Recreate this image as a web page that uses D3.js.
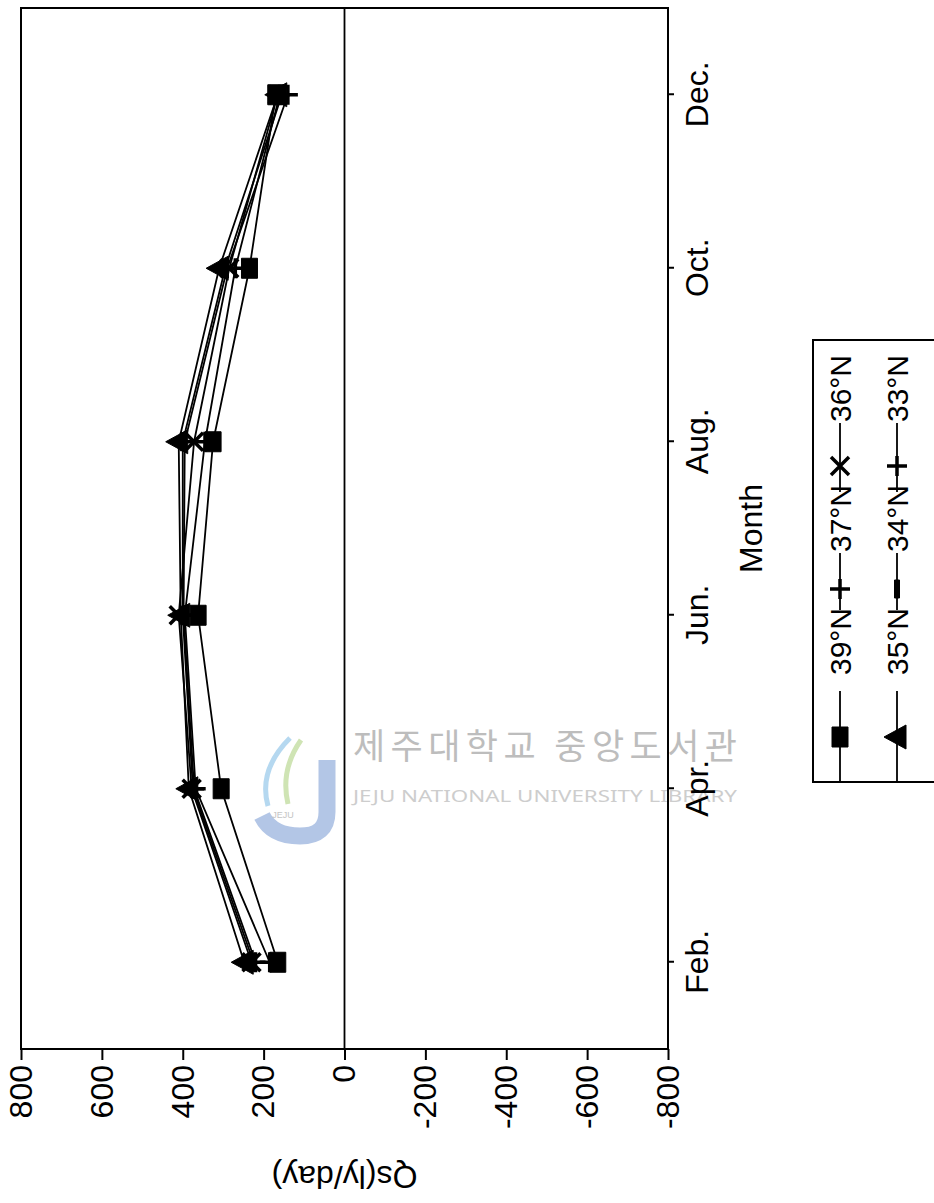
<!DOCTYPE html>
<html>
<head>
<meta charset="utf-8">
<script src="https://cdn.jsdelivr.net/npm/d3@7"></script>
<style>
    body { margin: 0; background: #fff; }
    svg { display: block; font-family: "Liberation Sans", Arial, sans-serif; }
</style>
</head>
<body>
<svg id="chart" width="934" height="1203"></svg>
<script>
// months on the (original) x axis
const months = ["Feb.", "Apr.", "Jun.", "Aug.", "Oct.", "Dec."];
const valueTicks = [800, 600, 400, 200, 0, -200, -400, -600, -800];
const latitudes = ["39°N", "37°N", "36°N", "35°N", "34°N", "33°N"];
const markerTypes = ["square", "plus", "x", "triangle", "bar", "plus"];

// Qs (ly/day)
const qs39 = [165, 305, 362, 325, 235, 170];
const qs37 = [185, 368, 395, 345, 270, 160];
const qs36 = [230, 378, 410, 372, 285, 165];
const qs35 = [248, 385, 405, 410, 310, 165];
const qs34 = [225, 375, 400, 400, 295, 155];
const qs33 = [220, 372, 398, 395, 290, 140];
const qsAll = [qs39, qs37, qs36, qs35, qs34, qs33];

const svg = d3.select("#chart");
const W = +svg.attr("width"), H = +svg.attr("height");

// watermark (horizontal on the page)
function drawWatermark() {
    const wm = svg.append("g").attr("class", "watermark");
    wm.append("path")
    .attr("d", "M327,760 L327,812 Q327,836 300,836 Q272,836 262,816")
    .attr("fill", "none").attr("stroke", "#b3c6e6").attr("stroke-width", 17);
    wm.append("path")
    .attr("d", "M290,738 Q258,770 268,806")
    .attr("fill", "none").attr("stroke", "#b5d8f0").attr("stroke-width", 5);
    wm.append("path")
    .attr("d", "M301,740 Q280,770 288,804")
    .attr("fill", "none").attr("stroke", "#cfe4b4").attr("stroke-width", 5);
    wm.append("text").attr("x", 283).attr("y", 818)
    .attr("text-anchor", "middle").attr("font-size", 9).attr("fill", "#c4c4c4")
    .text("JEJU");
    wm.append("text").attr("x", 353).attr("y", 759)
    .attr("font-family", "'Noto Sans CJK KR', sans-serif")
    .attr("font-size", 35).attr("fill", "#bdbdbd")
    .attr("textLength", 384).attr("lengthAdjust", "spacing")
    .text("제주대학교 중앙도서관");
    wm.append("text").attr("x", 353).attr("y", 802)
    .attr("font-family", "'Noto Sans', sans-serif")
    .attr("font-size", 16).attr("fill", "#cdcdcd")
    .attr("textLength", 384).attr("lengthAdjust", "spacingAndGlyphs")
    .text("JEJU NATIONAL UNIVERSITY  LIBRARY");
}
drawWatermark();

// the page is turned: the chart is built upright and the whole group is rotated by -90
const area = { left: 154, right: 1195, top: 21, bottom: 668 };
const g = svg.append("g").attr("transform", `translate(0,${H}) rotate(-90)`);

const scX = d3.scalePoint().domain(months).range([area.left, area.right]).padding(0.5);
const scY = d3.scaleLinear().domain([-800, 800]).range([area.bottom, area.top]);

// marker shapes
const symbolTypes = {
    square: { draw(ctx) { ctx.rect(-10, -8, 20, 16); } },
    triangle: { draw(ctx) { ctx.moveTo(0, -13); ctx.lineTo(12, 9); ctx.lineTo(-12, 9); ctx.closePath(); } },
    bar: { draw(ctx) { ctx.rect(-9, -2.5, 18, 5); } },
    plus: { draw(ctx) { ctx.moveTo(-10, 0); ctx.lineTo(10, 0); ctx.moveTo(0, -10); ctx.lineTo(0, 10); } },
    x: { draw(ctx) { ctx.moveTo(-9, -9); ctx.lineTo(9, 9); ctx.moveTo(-9, 9); ctx.lineTo(9, -9); } }
};
const filled = t => t === "square" || t === "triangle" || t === "bar";

function drawMarker(sel, type) {
    sel.attr("d", d3.symbol().type(symbolTypes[type]))
    .attr("fill", filled(type) ? "#000" : "none")
    .attr("stroke", "#000")
    .attr("stroke-width", filled(type) ? 1 : 3.5);
}

// frame and zero line
g.append("rect")
.attr("x", area.left).attr("y", area.top)
.attr("width", area.right - area.left).attr("height", area.bottom - area.top)
.attr("fill", "none").attr("stroke", "#000").attr("stroke-width", 2);

g.append("line")
.attr("x1", area.left).attr("x2", area.right)
.attr("y1", scY(0)).attr("y2", scY(0))
.attr("stroke", "#000").attr("stroke-width", 1.8);

// axes
const axisY = d3.axisLeft(scY).tickValues(valueTicks)
.tickFormat(d => String(d)) // plain hyphen for negatives
.tickSize(11).tickPadding(5);
g.append("g")
.attr("transform", `translate(${area.left},0)`)
.call(axisY)
.call(a => a.select(".domain").remove())
.call(a => a.selectAll("line").attr("stroke-width", 2))
.call(a => a.selectAll("text").attr("font-size", 32).attr("fill", "#000")
      .attr("font-family", "'Liberation Sans', Arial, sans-serif"));

const axisX = d3.axisBottom(scX).tickSize(6).tickPadding(11);
g.append("g")
.attr("transform", `translate(0,${area.bottom})`)
.call(axisX)
.call(a => a.select(".domain").remove())
.call(a => a.selectAll("line").attr("stroke-width", 2))
.call(a => a.selectAll("text").attr("font-size", 32).attr("fill", "#000")
      .attr("font-family", "'Liberation Sans', Arial, sans-serif"));

// axis titles
g.append("text")
.attr("x", (area.left + area.right) / 2).attr("y", 762)
.attr("text-anchor", "middle").attr("font-size", 32)
.text("Month");

g.append("text")
.attr("transform", `translate(37,${scY(0)}) rotate(-90)`)
.attr("text-anchor", "middle").attr("font-size", 32)
.text("Qs(ly/day)");

// series
const line = d3.line().x((d, i) => scX(months[i])).y(d => scY(d));
qsAll.forEach((vals, k) => {
    g.append("path")
    .attr("d", line(vals))
    .attr("fill", "none").attr("stroke", "#000").attr("stroke-width", 1.8);
});
qsAll.forEach((vals, k) => {
    g.selectAll(".m" + k)
    .data(vals)
    .enter()
    .append("path")
    .attr("class", "m" + k)
    .attr("transform", (d, i) => `translate(${scX(months[i])},${scY(d)})`)
    .call(drawMarker, markerTypes[k]);
});

// legend: two rows of three entries
const legendCols = [
    { lineStart: 421, mark: 466, lineEnd: 512, text: 528 },
    { lineStart: 593, mark: 614, lineEnd: 650, text: 651 },
    { lineStart: 711, mark: 737, lineEnd: 780, text: 781 }
];
const legendRows = [840, 897];
g.append("rect")
.attr("x", 421).attr("y", 813).attr("width", 442).attr("height", 160)
.attr("fill", "none").attr("stroke", "#000").attr("stroke-width", 2);

latitudes.forEach((name, k) => {
    const c = legendCols[k % 3], yy = legendRows[Math.floor(k / 3)];
    const item = g.append("g");
    item.append("line")
    .attr("x1", c.lineStart).attr("x2", c.lineEnd)
    .attr("y1", yy).attr("y2", yy)
    .attr("stroke", "#000").attr("stroke-width", 1.8);
    item.append("path")
    .attr("transform", `translate(${c.mark},${yy})`)
    .call(drawMarker, markerTypes[k]);
    item.append("text")
    .attr("x", c.text).attr("y", yy).attr("dy", "0.36em")
    .attr("font-size", 30)
    .text(name);
});
</script>
</body>
</html>
